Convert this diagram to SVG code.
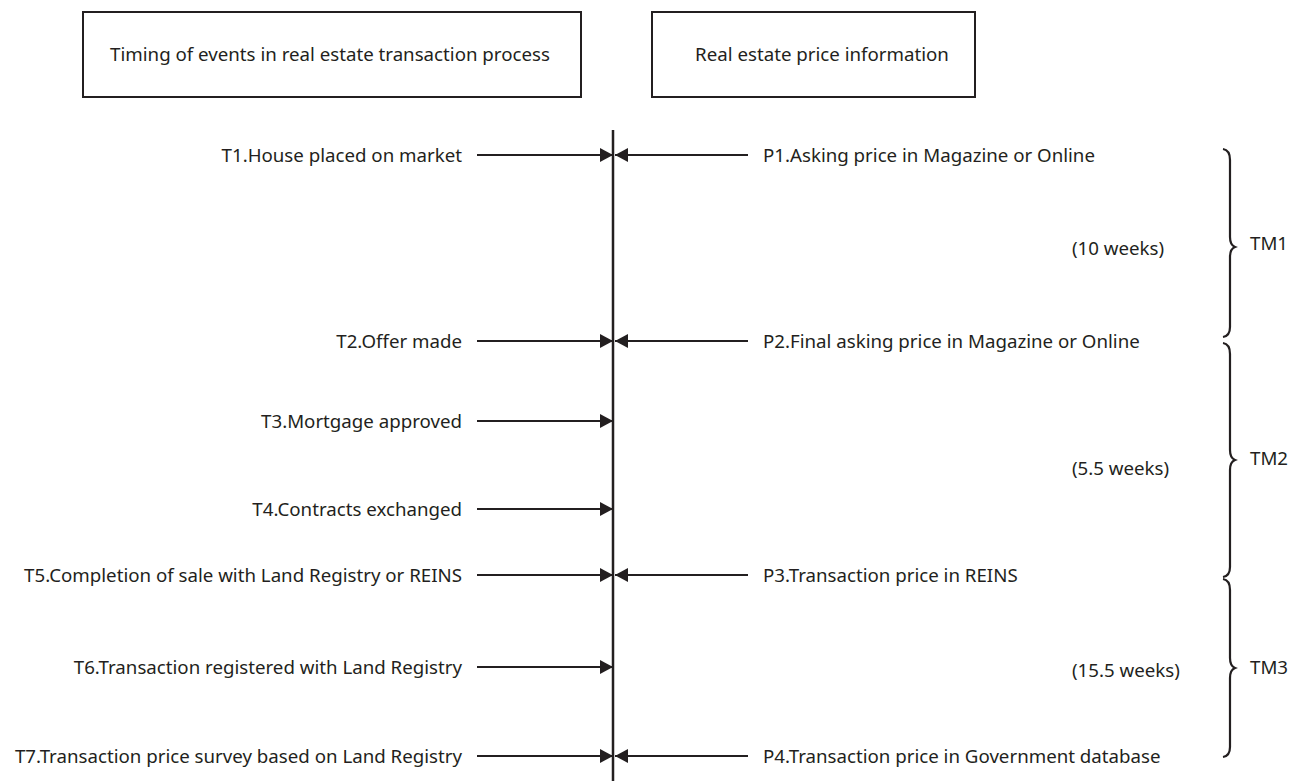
<svg xmlns="http://www.w3.org/2000/svg" width="1298" height="781" viewBox="0 0 1298 781">
<style>
text{font-family:"Noto Sans","Liberation Sans",sans-serif;font-size:18.7px;fill:#231f20}
.box{fill:#fff;stroke:#231f20;stroke-width:2}
.ln{stroke:#231f20;stroke-width:2;fill:none}
.br{stroke:#231f20;stroke-width:2.2;fill:none}
.l{text-anchor:end}
</style>
<defs>
<marker id="ah" viewBox="0 0 13 14" refX="13" refY="7" markerWidth="13" markerHeight="14" markerUnits="userSpaceOnUse" orient="auto">
<path d="M0,0 L13,7 L0,14 Z" fill="#231f20"/>
</marker>
</defs>
<rect width="1298" height="781" fill="#fff"/>
<g id="box-timing"><rect class="box" x="83" y="12" width="498" height="85"/><text x="330" y="61" text-anchor="middle">Timing of events in real estate transaction process</text></g>
<g id="box-price"><rect class="box" x="652" y="12" width="323" height="85"/><text x="822" y="61" text-anchor="middle">Real estate price information</text></g>
<g id="connectors">
<line class="ln" x1="613" y1="130" x2="613" y2="781" style="stroke-width:2.5"/>
<line class="ln" x1="477" y1="155" x2="613" y2="155" marker-end="url(#ah)"/>
<line class="ln" x1="748" y1="155" x2="615" y2="155" marker-end="url(#ah)"/>
<line class="ln" x1="477" y1="341" x2="613" y2="341" marker-end="url(#ah)"/>
<line class="ln" x1="748" y1="341" x2="615" y2="341" marker-end="url(#ah)"/>
<line class="ln" x1="477" y1="421" x2="613" y2="421" marker-end="url(#ah)"/>
<line class="ln" x1="477" y1="509" x2="613" y2="509" marker-end="url(#ah)"/>
<line class="ln" x1="477" y1="575" x2="613" y2="575" marker-end="url(#ah)"/>
<line class="ln" x1="748" y1="575" x2="615" y2="575" marker-end="url(#ah)"/>
<line class="ln" x1="477" y1="667" x2="613" y2="667" marker-end="url(#ah)"/>
<line class="ln" x1="477" y1="756" x2="613" y2="756" marker-end="url(#ah)"/>
<line class="ln" x1="748" y1="756" x2="615" y2="756" marker-end="url(#ah)"/>
</g>
<g id="T1"><text class="l" x="462" y="162">T1.House placed on market</text></g>
<g id="T2"><text class="l" x="462" y="348">T2.Offer made</text></g>
<g id="T3"><text class="l" x="462" y="428">T3.Mortgage approved</text></g>
<g id="T4"><text class="l" x="462" y="516">T4.Contracts exchanged</text></g>
<g id="T5"><text class="l" x="462" y="582">T5.Completion of sale with Land Registry or REINS</text></g>
<g id="T6"><text class="l" x="462" y="674">T6.Transaction registered with Land Registry</text></g>
<g id="T7"><text class="l" x="462" y="763">T7.Transaction price survey based on Land Registry</text></g>
<g id="P1"><text x="763" y="162">P1.Asking price in Magazine or Online</text></g>
<g id="P2"><text x="763" y="348">P2.Final asking price in Magazine or Online</text></g>
<g id="P3"><text x="763" y="582">P3.Transaction price in REINS</text></g>
<g id="P4"><text x="763" y="763">P4.Transaction price in Government database</text></g>
<g id="TM1">
<path class="br" d="M1223,149 Q1230,150 1230,160 L1230,237 Q1230,245 1235,247 Q1230,249 1230,257 L1230,327 Q1230,336 1223,337"/>
<text x="1250" y="250">TM1</text>
<text x="1072" y="255">(10 weeks)</text>
</g>
<g id="TM2">
<path class="br" d="M1223,343 Q1230,344 1230,354 L1230,450 Q1230,458 1235,460 Q1230,462 1230,470 L1230,567 Q1230,576 1223,577"/>
<text x="1250" y="465">TM2</text>
<text x="1072" y="475">(5.5 weeks)</text>
</g>
<g id="TM3">
<path class="br" d="M1223,579 Q1230,580 1230,590 L1230,658 Q1230,666 1235,668 Q1230,670 1230,678 L1230,747 Q1230,756 1223,757"/>
<text x="1250" y="674">TM3</text>
<text x="1072" y="677">(15.5 weeks)</text>
</g>
</svg>
